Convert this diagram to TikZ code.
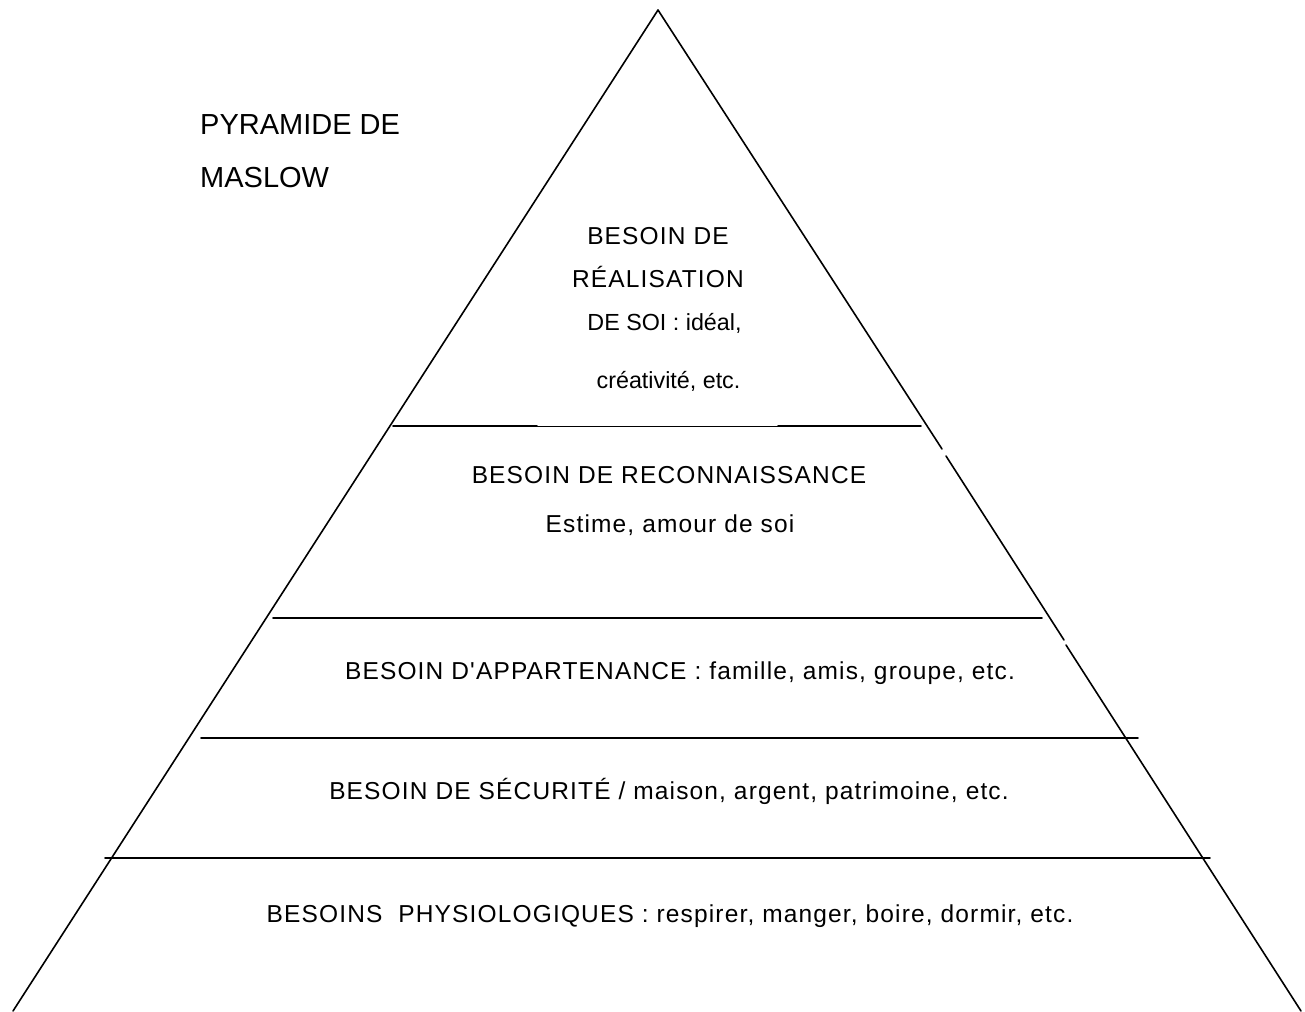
\documentclass[tikz,border=0pt]{standalone}
\usepackage{fontspec}
\setmainfont{Liberation Sans}
\newfontfamily\widefont[LetterSpace=4.7]{Liberation Sans}
\begin{document}
\begin{tikzpicture}[x=1pt,y=-1pt,
  edge/.style={line width=1.6pt,line cap=round},
  thinedge/.style={line width=0.8pt},
  lbl/.style={anchor=base,inner sep=0pt,font=\widefont\fontsize{24.5}{24.5}\selectfont},
  lblnarrow/.style={anchor=base,inner sep=0pt,font=\fontsize{23.3}{23.3}\selectfont},
  ttl/.style={anchor=base west,inner sep=0pt,font=\fontsize{29}{29}\selectfont}]
\useasboundingbox (0,0) rectangle (1305,1011);
% pyramid
\coordinate (apex) at (658,10);
\coordinate (bl) at (13,1011);
\coordinate (r1) at (942,449);
\coordinate (r2) at (946,456);
\coordinate (r3) at (1064,640);
\coordinate (r4) at (1066,645);
\coordinate (br) at (1301,1011);
\draw[edge] (apex) -- (bl);
\draw[edge] (apex) -- (r1);
\draw[edge] (r2) -- (r3);
\draw[edge] (r4) -- (br);
% level lines
\coordinate (h1a) at (393,426); \coordinate (h1b) at (537,426);
\coordinate (h1c) at (778,426); \coordinate (h1d) at (921,426);
\draw[edge] (h1a) -- (h1b);
\draw[thinedge] (h1b) -- (h1c);
\draw[edge] (h1c) -- (h1d);
\coordinate (h2a) at (273,618); \coordinate (h2b) at (1042,618);
\draw[edge] (h2a) -- (h2b);
\coordinate (h3a) at (201,738); \coordinate (h3b) at (1138,738);
\draw[edge] (h3a) -- (h3b);
\coordinate (h4a) at (105,858); \coordinate (h4b) at (1210,858);
\draw[edge] (h4a) -- (h4b);
% title
\node[ttl] (t1) at (200,135) {PYRAMIDE DE};
\node[ttl] (t2) at (200,187) {MASLOW};
% top level
\node[lbl] (a1) at (658,244) {BESOIN DE};
\node[lbl] (a2) at (658,287) {RÉALISATION};
\node[lblnarrow] (a3) at (664.5,330) {DE SOI : idéal,};
\node[lblnarrow] (a4) at (668.5,388) {créativité, etc.};
% level 2
\node[lbl] (b1) at (669,483) {BESOIN DE RECONNAISSANCE};
\node[lbl] (b2) at (670,532) {Estime, amour de soi};
% level 3
\node[lbl] (c1) at (680,679) {BESOIN D\char39\relax APPARTENANCE : famille, amis, groupe, etc.};
% level 4
\node[lbl] (d1) at (669,799) {BESOIN DE SÉCURITÉ / maison, argent, patrimoine, etc.};
% level 5
\node[lbl] (e1) at (670,922) {BESOINS\ \ PHYSIOLOGIQUES : respirer, manger, boire, dormir, etc.};
\end{tikzpicture}
\end{document}
